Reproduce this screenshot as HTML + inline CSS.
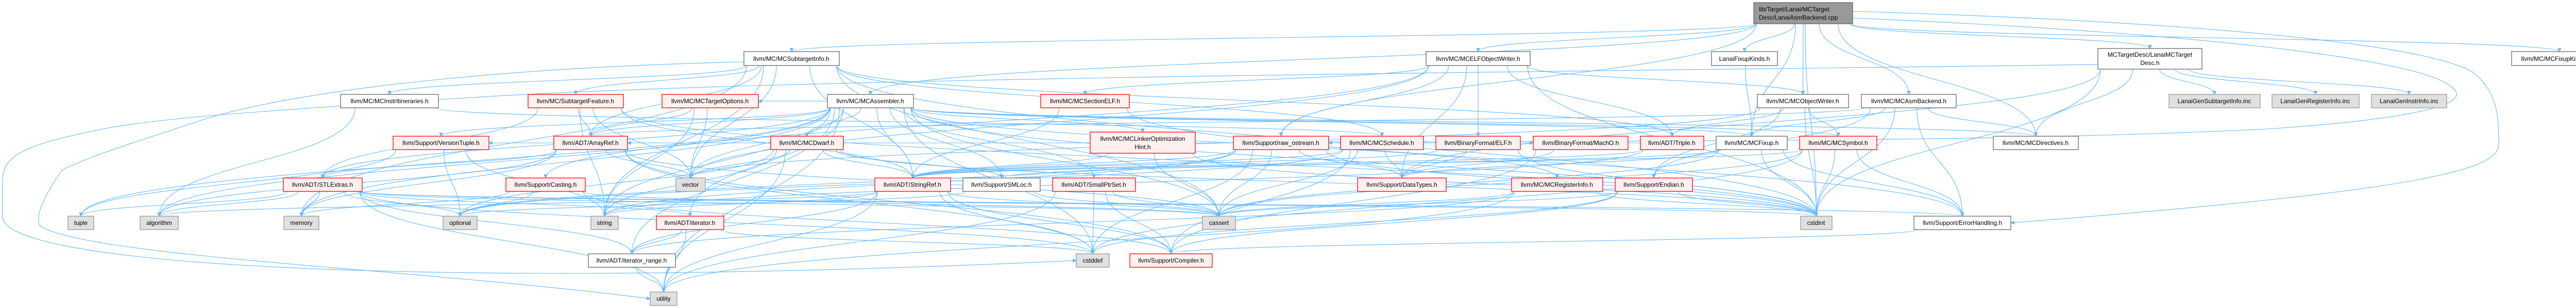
<!DOCTYPE html>
<html><head><meta charset="utf-8">
<style>
html,body{margin:0;padding:0;background:#fff;}
svg{display:block;}
text{font-family:"Liberation Sans",Arial,sans-serif;font-size:12px;fill:#000;}
.w{fill:#fff;stroke:#666;stroke-width:1.3;}
.r{fill:#FFF0F0;stroke:#FF0000;stroke-width:1.3;}
.g{fill:#E0E0E0;stroke:#999;stroke-width:1.3;}
.root{fill:#999;stroke:#666;stroke-width:1.3;}
.e{fill:none;stroke:#63B8FF;stroke-width:1.1;}
</style></head>
<body>
<svg id="s" width="5067" height="597" viewBox="0 0 5067 597" xmlns="http://www.w3.org/2000/svg">
<defs><marker id="a" viewBox="0 0 10 10" refX="9" refY="5" markerWidth="7" markerHeight="7" orient="auto-start-reverse"><path d="M0,0 L10,5 L0,10 z" fill="#63B8FF"/></marker></defs>
<g id="extra">
<path class="e" marker-end="url(#a)" d="M4072,125 C3000,140 1500,150 900,190 C500,215 300,230 200,250 C50,280 5,300 5,350 L5,420 C5,520 900,560 2089,505"/>
<path class="e" marker-end="url(#a)" d="M1444,120 C1000,130 600,170 400,230 C250,280 180,300 120,330 C100,360 60,420 80,440 C200,500 800,520 1262,579"/>
<path class="e" marker-end="url(#a)" d="M3596,22 C4200,40 4700,80 4800,140 C4850,180 4850,230 4850,280 C4850,330 4700,370 3903,432"/>
<path class="e" marker-end="url(#a)" d="M3596,35 C4200,60 4700,110 4760,170 C4800,200 4700,230 4400,250 C3800,280 3000,270 2579,277"/>
</g>
<g id="edges"></g>
<g id="nodes">
<g id="root"><rect class="root" x="3404" y="5" width="192" height="41"/><text x="3414" y="22">lib/Target/Lanai/MCTarget</text><text x="3414" y="38">Desc/LanaiAsmBackend.cpp</text></g>

<g id="subinfo"><rect class="w" x="1444" y="100" width="185" height="27"/><text x="1536" y="118" text-anchor="middle">llvm/MC/MCSubtargetInfo.h</text></g>
<g id="elfow"><rect class="w" x="2768" y="100" width="202" height="27"/><text x="2869" y="118" text-anchor="middle">llvm/MC/MCELFObjectWriter.h</text></g>
<g id="fixkinds"><rect class="w" x="3322" y="100" width="128" height="27"/><text x="3386" y="118" text-anchor="middle">LanaiFixupKinds.h</text></g>
<g id="tdesc"><rect class="w" x="4072" y="94" width="202" height="40"/><text x="4173" y="110" text-anchor="middle">MCTargetDesc/LanaiMCTarget</text><text x="4173" y="126" text-anchor="middle">Desc.h</text></g>
<g id="fkinfo"><rect class="w" x="4875" y="100" width="186" height="27"/><text x="4968" y="118" text-anchor="middle">llvm/MC/MCFixupKindInfo.h</text></g>

<g id="itin"><rect class="w" x="661" y="183" width="190" height="26"/><text x="756" y="200" text-anchor="middle">llvm/MC/MCInstrItineraries.h</text></g>
<g id="subfeat"><rect class="r" x="1025" y="183" width="185" height="26"/><text x="1117" y="200" text-anchor="middle">llvm/MC/SubtargetFeature.h</text></g>
<g id="topts"><rect class="r" x="1285" y="183" width="187" height="26"/><text x="1378" y="200" text-anchor="middle">llvm/MC/MCTargetOptions.h</text></g>
<g id="asm"><rect class="w" x="1606" y="183" width="167" height="26"/><text x="1689" y="200" text-anchor="middle">llvm/MC/MCAssembler.h</text></g>
<g id="secelf"><rect class="r" x="2020" y="183" width="172" height="26"/><text x="2106" y="200" text-anchor="middle">llvm/MC/MCSectionELF.h</text></g>
<g id="objw"><rect class="w" x="3411" y="183" width="177" height="26"/><text x="3499" y="200" text-anchor="middle">llvm/MC/MCObjectWriter.h</text></g>
<g id="asmb"><rect class="w" x="3613" y="183" width="184" height="26"/><text x="3705" y="200" text-anchor="middle">llvm/MC/MCAsmBackend.h</text></g>
<g id="gsub"><rect class="g" x="4210" y="183" width="177" height="26"/><text x="4298" y="200" text-anchor="middle">LanaiGenSubtargetInfo.inc</text></g>
<g id="greg"><rect class="g" x="4410" y="183" width="169" height="26"/><text x="4494" y="200" text-anchor="middle">LanaiGenRegisterInfo.inc</text></g>
<g id="ginstr"><rect class="g" x="4603" y="183" width="146" height="26"/><text x="4676" y="200" text-anchor="middle">LanaiGenInstrInfo.inc</text></g>

<g id="lohint"><rect class="r" x="2116" y="256" width="204" height="41"/><text x="2218" y="273" text-anchor="middle">llvm/MC/MCLinkerOptimization</text><text x="2218" y="289" text-anchor="middle">Hint.h</text></g>
<g id="vtuple"><rect class="r" x="763" y="264" width="186" height="26"/><text x="856" y="281" text-anchor="middle">llvm/Support/VersionTuple.h</text></g>
<g id="aref"><rect class="r" x="1075" y="264" width="143" height="26"/><text x="1146" y="281" text-anchor="middle">llvm/ADT/ArrayRef.h</text></g>
<g id="dwarf"><rect class="r" x="1496" y="264" width="141" height="26"/><text x="1566" y="281" text-anchor="middle">llvm/MC/MCDwarf.h</text></g>
<g id="rawos"><rect class="r" x="2394" y="264" width="185" height="26"/><text x="2486" y="281" text-anchor="middle">llvm/Support/raw_ostream.h</text></g>
<g id="sched"><rect class="r" x="2602" y="264" width="161" height="26"/><text x="2682" y="281" text-anchor="middle">llvm/MC/MCSchedule.h</text></g>
<g id="elf"><rect class="r" x="2787" y="264" width="164" height="26"/><text x="2869" y="281" text-anchor="middle">llvm/BinaryFormat/ELF.h</text></g>
<g id="macho"><rect class="r" x="2976" y="264" width="184" height="26"/><text x="3068" y="281" text-anchor="middle">llvm/BinaryFormat/MachO.h</text></g>
<g id="triple"><rect class="r" x="3184" y="264" width="123" height="26"/><text x="3245" y="281" text-anchor="middle">llvm/ADT/Triple.h</text></g>
<g id="fixup"><rect class="w" x="3331" y="264" width="138" height="26"/><text x="3400" y="281" text-anchor="middle">llvm/MC/MCFixup.h</text></g>
<g id="symbol"><rect class="r" x="3493" y="264" width="150" height="26"/><text x="3568" y="281" text-anchor="middle">llvm/MC/MCSymbol.h</text></g>
<g id="direct"><rect class="w" x="3869" y="264" width="165" height="26"/><text x="3951" y="281" text-anchor="middle">llvm/MC/MCDirectives.h</text></g>

<g id="stlx"><rect class="r" x="550" y="345" width="153" height="26"/><text x="626" y="362" text-anchor="middle">llvm/ADT/STLExtras.h</text></g>
<g id="casting"><rect class="r" x="982" y="345" width="154" height="26"/><text x="1059" y="362" text-anchor="middle">llvm/Support/Casting.h</text></g>
<g id="vector"><rect class="g" x="1312" y="345" width="57" height="26"/><text x="1340" y="362" text-anchor="middle">vector</text></g>
<g id="sref"><rect class="r" x="1698" y="345" width="147" height="26"/><text x="1771" y="362" text-anchor="middle">llvm/ADT/StringRef.h</text></g>
<g id="smloc"><rect class="w" x="1869" y="345" width="150" height="26"/><text x="1944" y="362" text-anchor="middle">llvm/Support/SMLoc.h</text></g>
<g id="sps"><rect class="r" x="2043" y="345" width="161" height="26"/><text x="2123" y="362" text-anchor="middle">llvm/ADT/SmallPtrSet.h</text></g>
<g id="dtypes"><rect class="r" x="2635" y="345" width="172" height="26"/><text x="2721" y="362" text-anchor="middle">llvm/Support/DataTypes.h</text></g>
<g id="reginfo"><rect class="r" x="2934" y="345" width="177" height="26"/><text x="3022" y="362" text-anchor="middle">llvm/MC/MCRegisterInfo.h</text></g>
<g id="endian"><rect class="r" x="3135" y="345" width="150" height="26"/><text x="3210" y="362" text-anchor="middle">llvm/Support/Endian.h</text></g>

<g id="tuple"><rect class="g" x="132" y="419" width="50" height="26"/><text x="157" y="436" text-anchor="middle">tuple</text></g>
<g id="algo"><rect class="g" x="272" y="419" width="74" height="26"/><text x="309" y="436" text-anchor="middle">algorithm</text></g>
<g id="memory"><rect class="g" x="551" y="419" width="68" height="26"/><text x="585" y="436" text-anchor="middle">memory</text></g>
<g id="optional"><rect class="g" x="860" y="419" width="66" height="26"/><text x="893" y="436" text-anchor="middle">optional</text></g>
<g id="string"><rect class="g" x="1147" y="419" width="53" height="26"/><text x="1173" y="436" text-anchor="middle">string</text></g>
<g id="iter"><rect class="r" x="1274" y="419" width="131" height="26"/><text x="1339" y="436" text-anchor="middle">llvm/ADT/iterator.h</text></g>
<g id="cassert"><rect class="g" x="2334" y="419" width="64" height="26"/><text x="2366" y="436" text-anchor="middle">cassert</text></g>
<g id="cstdint"><rect class="g" x="3495" y="419" width="61" height="26"/><text x="3525" y="436" text-anchor="middle">cstdint</text></g>
<g id="errh"><rect class="w" x="3715" y="419" width="188" height="26"/><text x="3809" y="436" text-anchor="middle">llvm/Support/ErrorHandling.h</text></g>

<g id="irange"><rect class="w" x="1142" y="492" width="169" height="26"/><text x="1226" y="509" text-anchor="middle">llvm/ADT/iterator_range.h</text></g>
<g id="cstddef"><rect class="g" x="2089" y="492" width="64" height="26"/><text x="2121" y="509" text-anchor="middle">cstddef</text></g>
<g id="compiler"><rect class="r" x="2193" y="492" width="160" height="26"/><text x="2273" y="509" text-anchor="middle">llvm/Support/Compiler.h</text></g>

<g id="utility"><rect class="g" x="1262" y="566" width="52" height="26"/><text x="1288" y="583" text-anchor="middle">utility</text></g>
</g>
</svg>
<script>
(function(){
var E={
root:"fixkinds objw asmb tdesc fkinfo elfow asm subinfo rawos direct fixup cstdint",
fixkinds:"fixup",
tdesc:"gsub greg ginstr cstdint dtypes direct",
subinfo:"itin subfeat sched aref sref triple cassert cstdint string vector memory",
itin:"sched algo",
subfeat:"aref stlx sref vector string cstdint",
topts:"aref string vector",
asm:"aref stlx sps sref iter irange dwarf direct fixup lohint symbol smloc vtuple algo cassert cstddef cstdint memory string tuple utility vector reginfo topts",
elfow:"secelf elf triple rawos objw dtypes casting vector cstdint",
objw:"triple symbol cstdint vector endian",
asmb:"aref direct fixup endian cstdint errh",
fixup:"dtypes smloc errh cassert cstdint",
symbol:"sref errh cassert cstddef cstdint",
dwarf:"macho aref sref smloc cstdint optional string utility vector",
rawos:"sref dtypes cassert cstddef cstdint optional string",
vtuple:"optional string tuple",
aref:"stlx compiler algo cassert cstddef memory vector",
stlx:"iter irange errh algo cassert cstddef cstdint memory optional tuple utility",
casting:"compiler cassert memory optional",
sref:"irange compiler algo cassert cstddef string utility",
sps:"compiler cassert cstddef utility",
iter:"irange cstddef utility",
irange:"utility",
sched:"sref dtypes compiler cassert optional",
elf:"sref dtypes cstdint",
macho:"compiler dtypes",
triple:"sref vtuple string",
reginfo:"irange cassert cstdint utility",
endian:"compiler cassert cstddef cstdint",
errh:"compiler",
secelf:"sref errh",
lohint:"sref cassert cstdint",
smloc:"cassert optional"
};
function box(id){var r=document.querySelector('#'+id+' rect');return{x:+r.getAttribute('x'),y:+r.getAttribute('y'),w:+r.getAttribute('width'),h:+r.getAttribute('height')};}
var g=document.getElementById('edges'),out='';
for(var s in E){var a=box(s);E[s].split(' ').forEach(function(t){if(!t)return;var b=box(t);var sx=a.x+a.w/2,sy=a.y+a.h,tx=b.x+b.w/2,ty=b.y,d;
if(b.y>a.y+a.h){var dx=(tx-sx)*0.15;sx=Math.max(a.x+5,Math.min(a.x+a.w-5,sx+dx));var my=(sy+ty)/2;d='M'+sx+','+sy+' C'+sx+','+my+' '+tx+','+my+' '+tx+','+ty;}
else{sy=a.y+a.h/2;ty=b.y+b.h/2;if(tx>sx){sx=a.x+a.w;tx=b.x;}else{sx=a.x;tx=b.x+b.w;}var mx=(sx+tx)/2;d='M'+sx+','+sy+' C'+mx+','+sy+' '+mx+','+ty+' '+tx+','+ty;}
out+='<path class="e" marker-end="url(#a)" d="'+d+'"/>';});}
g.innerHTML=out;
})();
</script>
</body></html>
